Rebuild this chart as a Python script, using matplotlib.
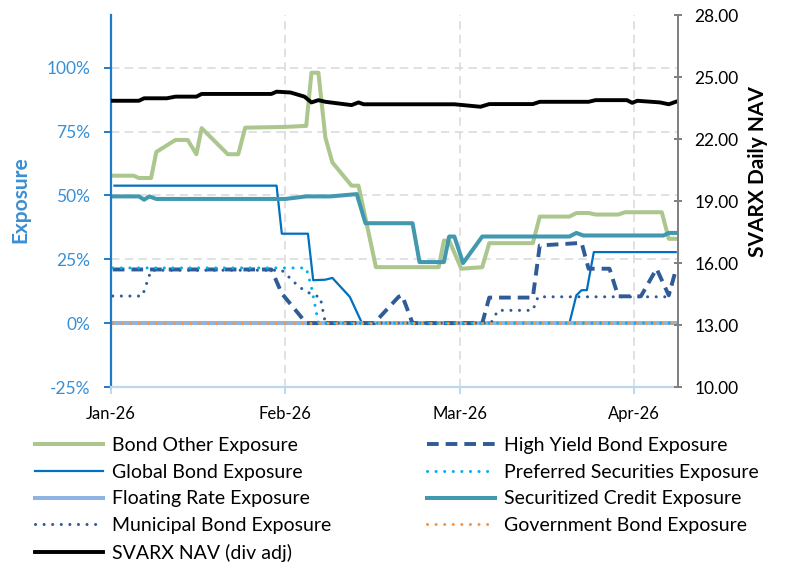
import matplotlib.pyplot as plt
from matplotlib.ticker import FuncFormatter, FixedLocator

plt.rcParams['font.family'] = ['Lato', 'DejaVu Sans']

# x axis: months since Jan-26 (ticks are equally spaced per month)
month_ticks = [0, 1, 2, 3]
month_labels = ['Jan-26', 'Feb-26', 'Mar-26', 'Apr-26']

# exposures in percent
bond_other_x = [0.01, 0.13, 0.16, 0.23, 0.26, 0.37, 0.44, 0.49, 0.52, 0.67, 0.73, 0.77,
                1.00, 1.12, 1.15, 1.19, 1.23, 1.27, 1.38, 1.42, 1.52, 1.88, 1.91, 1.94,
                2.01, 2.13, 2.17, 2.42, 2.46, 2.63, 2.67, 2.74, 2.78, 2.91, 2.95, 3.16,
                3.20, 3.24]
bond_other_y = [57.7, 57.7, 56.8, 56.8, 67.0, 71.7, 71.7, 66.1, 76.3, 66.1, 66.1, 76.5,
                76.8, 77.2, 98.0, 98.0, 72.6, 62.9, 53.8, 53.8, 21.9, 21.9, 32.3, 32.3,
                21.3, 21.9, 31.3, 31.3, 41.7, 41.7, 43.1, 43.1, 42.5, 42.5, 43.4, 43.4,
                33.0, 33.0]

global_x = [0.02, 0.95, 0.98, 1.13, 1.16, 1.23, 1.27, 1.37, 1.44, 2.63, 2.67, 2.70,
            2.73, 2.77, 3.24]
global_y = [53.8, 53.8, 35.0, 35.0, 16.8, 17.0, 17.7, 10.3, 0.0, 0.0, 10.9, 12.9,
            12.9, 27.8, 27.8]

floating_x = [0.01, 3.24]
floating_y = [0.0, 0.0]

muni_x = [0.01, 0.18, 0.23, 0.98, 1.08, 1.16, 1.20, 1.23, 2.18, 2.22, 2.42, 2.45,
          3.20, 3.24]
muni_y = [10.6, 10.6, 20.7, 20.7, 14.1, 10.9, 10.3, 0.0, 0.0, 5.0, 5.0, 10.3,
          10.3, 20.7]

high_yield_x = [0.01, 0.92, 0.98, 1.12, 1.51, 1.65, 1.67, 1.73, 2.13, 2.17, 2.42, 2.46,
                2.70, 2.74, 2.86, 2.91, 3.04, 3.13, 3.20, 3.24]
high_yield_y = [21.0, 21.0, 11.6, 0.0, 0.0, 10.3, 10.9, 0.0, 0.0, 10.0, 10.0, 30.4,
                31.4, 21.3, 21.3, 10.5, 10.5, 21.3, 10.9, 20.7]

preferred_x = [0.01, 1.12, 1.15, 1.19, 3.24]
preferred_y = [21.6, 21.6, 14.1, 0.0, 0.0]

securitized_x = [0.01, 0.16, 0.19, 0.22, 0.26, 1.00, 1.12, 1.26, 1.41, 1.46, 1.73, 1.77,
                 1.91, 1.94, 1.97, 2.02, 2.13, 2.63, 2.67, 2.71, 3.17, 3.20, 3.24]
securitized_y = [49.6, 49.6, 48.3, 49.6, 48.6, 48.6, 49.6, 49.6, 50.5, 39.1, 39.1, 23.9,
                 23.9, 33.9, 33.9, 23.5, 33.9, 33.9, 35.3, 34.3, 34.3, 35.3, 35.3]

government_x = [0.01, 3.24]
government_y = [0.0, 0.0]

# NAV (right axis)
nav_x = [0.01, 0.16, 0.19, 0.32, 0.37, 0.49, 0.52, 0.92, 0.95, 1.03, 1.11, 1.15,
         1.19, 1.23, 1.38, 1.42, 1.45, 1.97, 2.12, 2.17, 2.42, 2.46, 2.74, 2.78,
         2.96, 2.99, 3.02, 3.15, 3.20, 3.24]
nav_y = [23.85, 23.85, 23.97, 23.97, 24.05, 24.05, 24.18, 24.18, 24.29, 24.25, 24.05, 23.77,
         23.88, 23.80, 23.64, 23.77, 23.68, 23.68, 23.56, 23.69, 23.69, 23.80, 23.80, 23.88,
         23.88, 23.75, 23.85, 23.77, 23.68, 23.80]

fig = plt.figure(figsize=(7.86, 5.65), dpi=100)
ax = fig.add_axes([111 / 786, 1 - 387 / 565, 567 / 786, 372 / 565])
ax2 = ax.twinx()

dot = (0, (0.01, 2.8))
h_other, = ax.plot(bond_other_x, bond_other_y, color='#abc78e', lw=2.9, label='Bond Other Exposure')
h_global, = ax.plot(global_x, global_y, color='#0070c0', lw=1.6, label='Global Bond Exposure')
h_float, = ax.plot(floating_x, floating_y, color='#8db4e2', lw=2.9, label='Floating Rate Exposure')
h_muni, = ax.plot(muni_x, muni_y, color='#2f5b96', lw=2.2, linestyle=dot,
                  dash_capstyle='round', label='Municipal Bond Exposure')
h_hy, = ax.plot(high_yield_x, high_yield_y, color='#2f5b96', lw=2.8, linestyle=(0, (3.0, 1.8)),
                label='High Yield Bond Exposure')
h_pref, = ax.plot(preferred_x, preferred_y, color='#00b0f0', lw=2.2, linestyle=dot,
                  dash_capstyle='round', label='Preferred Securities Exposure')
h_sec, = ax.plot(securitized_x, securitized_y, color='#4198af', lw=2.9, label='Securitized Credit Exposure')
h_gov, = ax.plot(government_x, government_y, color='#f79646', lw=2.2, linestyle=dot,
                 dash_capstyle='round', label='Government Bond Exposure')
h_nav, = ax2.plot(nav_x, nav_y, color='black', lw=2.8, label='SVARX NAV (div adj)')

# left axis
ax.set_xlim(0, 3.253)
ax.set_ylim(-25, 120.6)
ax.yaxis.set_major_locator(FixedLocator([-25, 0, 25, 50, 75, 100]))
ax.yaxis.set_major_formatter(FuncFormatter(lambda v, p: '%d%%' % v))
ax.xaxis.set_major_locator(FixedLocator(month_ticks))
ax.set_xticklabels(month_labels)
ax.grid(True, color='#d9d9d9', lw=1.1, linestyle=(0, (5.5, 3.5)))
ax.set_axisbelow(True)

ax.spines['top'].set_visible(False)
ax.spines['right'].set_visible(False)
ax.spines['left'].set_color('#1f7bc8')
ax.spines['left'].set_linewidth(1.6)
ax.spines['bottom'].set_color('#bdd7ee')
ax.spines['bottom'].set_linewidth(1.6)
ax.tick_params(axis='y', colors='#1f7bc8', labelcolor='#3a8fd4', labelsize=12.5, length=5,
               width=1.4, pad=10)
ax.tick_params(axis='x', colors='#bdd7ee', labelcolor='black', labelsize=12, length=5,
               width=1.4, pad=8.5)
ax.set_ylabel('Exposure', color='#3a8fd4', fontsize=15, fontweight='bold')
ax.yaxis.set_label_coords(-0.143, 0.505)

# right axis
ax2.set_ylim(10, 28)
ax2.yaxis.set_major_locator(FixedLocator([10, 13, 16, 19, 22, 25, 28]))
ax2.yaxis.set_major_formatter(FuncFormatter(lambda v, p: '%.2f' % v))
for s in ['top', 'left', 'bottom']:
    ax2.spines[s].set_visible(False)
ax2.spines['right'].set_color('#7f7f7f')
ax2.spines['right'].set_linewidth(1.4)
ax2.tick_params(axis='y', colors='#7f7f7f', labelcolor='black', labelsize=12.5, length=6,
                width=1.4, direction='inout', pad=9)
ax2.set_ylabel('SVARX Daily NAV', fontsize=15, fontweight='bold')
ax2.yaxis.set_label_coords(1.123, 0.58)

leg_kw = dict(loc='upper left', frameon=False, fontsize=14, handlelength=3.5,
              handletextpad=0.46, labelspacing=0.5, borderpad=0, borderaxespad=0)
fig.legend(handles=[h_other, h_global, h_float, h_muni, h_nav],
           bbox_to_anchor=(35 / 786, 1 - 437 / 565), **leg_kw)
fig.legend(handles=[h_hy, h_pref, h_sec, h_gov],
           bbox_to_anchor=(427 / 786, 1 - 437 / 565), **leg_kw)

fig.savefig('out.png', dpi=100)
